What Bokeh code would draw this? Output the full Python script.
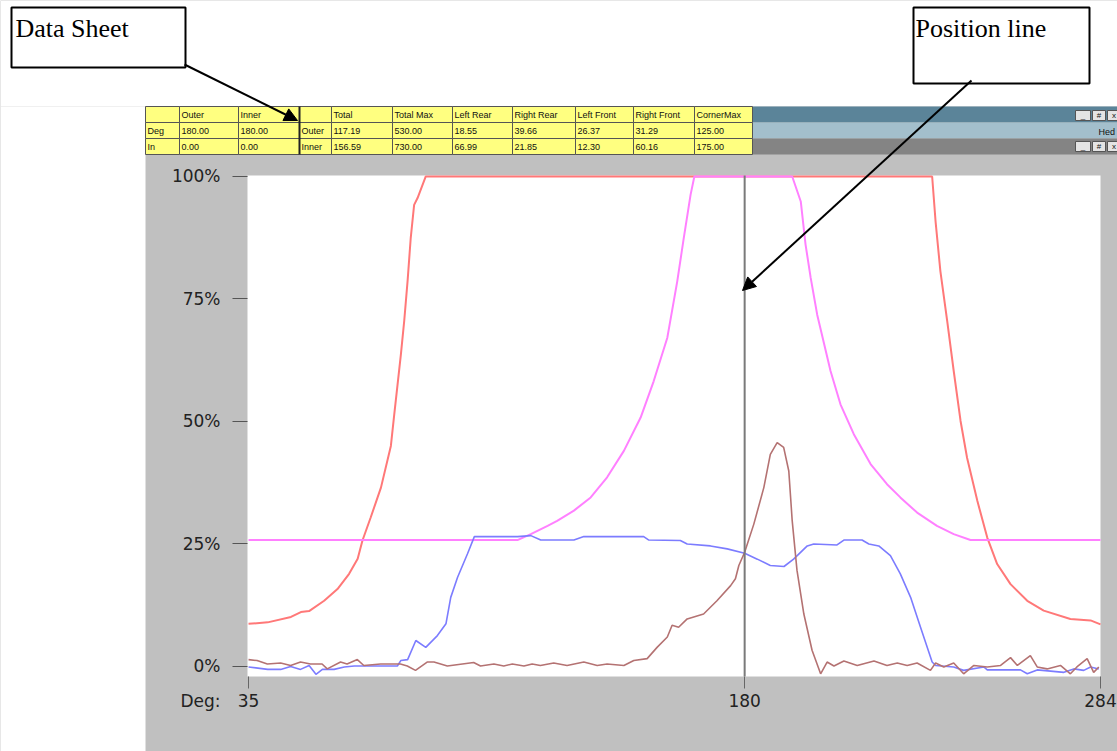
from bokeh.plotting import figure
from bokeh.models import (Range1d, FixedTicker, BoxAnnotation, Label, Arrow, NormalHead)
from bokeh.embed import file_html
from bokeh.resources import INLINE

# ---------------- data ----------------
red_x = [35, 40.6, 47.4, 50.3, 52.7, 57.1, 61.0, 64.4, 66.9, 68.3, 70.7, 73.7, 76.6, 77.6,
         79.5, 80.5, 81.5, 82.4, 83.4, 84.4, 86.8, 234.8, 235.8, 237.2, 239.2, 241.1, 243.1,
         245.0, 248.0, 250.9, 253.8, 257.7, 262.6, 267.4, 275.2, 281.1, 284]
red_y = [8.7, 9.0, 10.1, 11.1, 11.3, 13.4, 15.8, 18.9, 22.0, 25.7, 30.4, 36.5, 45.0, 51.5,
         63.5, 70.5, 78.8, 87.4, 94.2, 95.6, 100, 100, 90.8, 80.7, 70.5, 60.3, 50.1,
         42.6, 33.8, 26.3, 20.9, 16.8, 13.4, 11.4, 9.7, 9.4, 8.6]

mag_x = [35, 113.6, 117.5, 122.4, 125.2, 130.1, 135.0, 139.8, 144.7, 149.6, 153.4, 157.4,
         160.3, 162.2, 164.2, 165.3, 193.9, 196.4, 197.8, 199.3, 201.2, 205.1, 208.0, 211.9,
         216.8, 221.6, 225.5, 230.4, 236.2, 241.1, 246.0, 284]
mag_y = [25.8, 25.8, 27.0, 28.7, 29.7, 31.8, 34.5, 38.6, 44.0, 50.8, 58.2, 67.1,
         78.6, 87.4, 96.3, 100, 100, 94.9, 86.1, 79.3, 71.8, 60.3, 53.5, 47.4,
         41.3, 37.2, 34.5, 31.4, 28.7, 27.0, 25.8, 25.8]

blue_x = [35, 40.6, 44.4, 47.3, 50.2, 52.7, 54.7, 56.6, 60.0, 63.0, 65.9, 69.8, 78.5, 79.5,
          81.5, 83.9, 86.8, 90.2, 92.7, 94.1, 96.1, 99.0, 101.0, 113.6, 117.5, 120.4, 130.1,
          133.0, 150.5, 152.0, 161.2, 163.2, 170.0, 174.9, 180.0, 183.7, 187.5, 191.5, 194.3,
          198.3, 200.2, 207.0, 209.0, 214.3, 216.3, 219.2, 222.6, 225.5, 228.5, 231.4, 234.8,
          235.8, 241.1, 244.0, 249.9, 250.9, 260.6, 262.6, 265.5, 273.3, 276.2, 279.1, 281.1,
          283.5]
blue_y = [-0.1, -0.6, -0.6, 0.0, -0.6, 0.2, -1.6, -0.6, -0.6, -0.1, 0.1, 0.1, 0.1, 1.2,
          1.4, 5.3, 3.9, 6.3, 8.7, 14.1, 18.2, 23.0, 26.5, 26.5, 26.7, 25.8, 25.8,
          26.5, 26.5, 25.8, 25.7, 25.0, 24.6, 24.0, 23.1, 21.9, 20.6, 20.4, 21.9,
          24.6, 25.0, 24.8, 25.8, 25.8, 25.0, 24.6, 22.6, 18.9, 14.1, 8.0, 0.9,
          0.2, -0.1, -0.8, -0.1, -0.7, -0.7, -1.5, -0.7, -1.2, -0.5, -0.8, -0.1,
          -0.5]

brown_x = [35, 37.5, 40.5, 44.4, 47.3, 50.2, 53.1, 56.5, 58.0, 61.9, 63.8, 66.8, 68.7, 73.6,
           79.4, 81.4, 83.8, 87.2, 89.2, 93.1, 100.8, 102.8, 106.7, 109.6, 112.1, 115.5,
           117.9, 120.3, 124.2, 128.1, 133.0, 136.9, 139.8, 144.7, 147.6, 151.5, 154.4, 157.4,
           158.8, 160.7, 163.2, 168.0, 171.9, 175.9, 177.3, 178.3, 180.0, 182.7, 185.6, 187.5,
           189.5, 191.4, 192.9, 193.9, 195.3, 197.3, 199.7, 202.2, 204.1, 206.1, 209.0, 212.9,
           217.8, 221.6, 224.6, 227.5, 230.4, 234.3, 235.8, 238.2, 241.1, 244.0, 247.0, 250.9,
           254.8, 257.7, 259.7, 263.5, 265.5, 268.4, 272.3, 275.2, 277.1, 280.1, 282.0, 283.5]
brown_y = [1.4, 1.2, 0.5, 0.7, 0.2, 0.9, 0.5, 0.5, -0.5, 0.9, 0.5, 1.4, 0.2, 0.5,
           0.5, 0.1, -0.8, 0.9, 0.9, 0.1, 0.8, 0.1, 0.5, 0.1, 0.5, 0.1,
           0.5, 0.2, 0.7, 0.2, 0.9, 0.2, 0.5, 0.2, 1.2, 1.6, 3.9, 6.0,
           8.4, 8.0, 9.7, 10.7, 13.4, 16.5, 17.9, 20.6, 23.3, 29.1, 36.5, 43.3,
           45.7, 44.7, 39.9, 29.7, 19.6, 10.7, 3.3, -1.5, 0.9, 0.1, 1.1, 0.2,
           1.1, 0.2, 0.7, 0.2, 0.7, -0.8, 0.7, -0.1, 0.7, -1.5, 0.2, -0.1,
           0.2, 1.8, 0.2, 2.2, -0.1, -0.5, 0.2, -1.5, -0.1, 1.6, -1.2, -0.1]

position_deg = 180
x_ticks = [35, 180, 284]
y_ticks = [0, 25, 50, 75, 100]
y_tick_labels = ["0%", "25%", "50%", "75%", "100%"]

table_header = ["", "Outer", "Inner", "", "Total", "Total Max", "Left Rear", "Right Rear",
                "Left Front", "Right Front", "CornerMax"]
table_row1 = ["Deg", "180.00", "180.00", "Outer", "117.19", "530.00", "18.55", "39.66",
              "26.37", "31.29", "125.00"]
table_row2 = ["In", "0.00", "0.00", "Inner", "156.59", "730.00", "66.99", "21.85",
              "12.30", "60.16", "175.00"]

# ---------------- layout (page pixels) ----------------
W, H = 1117, 751
FL, FR, FT, FB = 247, 1100, 175, 676          # white plot area edges in page px
X0, X1 = 34.7, 284.0                           # data extent of the plot area
Y0, Y1 = -2.05, 100.2
SX = (FR - FL) / (X1 - X0)
SY = (FB - FT) / (Y1 - Y0)

def DX(px):   # page px -> data x
    return X0 + (px - FL) / SX

def DY(py):   # page px -> data y
    return Y1 - (py - FT) / SY

p = figure(width=W, height=H, output_backend="svg", toolbar_location=None,
           x_range=Range1d(DX(0), DX(W)), y_range=Range1d(DY(H), DY(0)),
           min_border=0, min_border_left=0, min_border_right=0,
           min_border_top=0, min_border_bottom=0)
p.border_fill_color = "#c0c0c0"
p.background_fill_color = "#c0c0c0"
p.outline_line_color = None
p.grid.visible = False

# axes drawn at the edges of the plot area
p.yaxis.fixed_location = X0
p.xaxis.fixed_location = Y0

p.yaxis.ticker = FixedTicker(ticks=y_ticks)
p.yaxis.major_label_overrides = {t: l for t, l in zip(y_ticks, y_tick_labels)}
p.yaxis.axis_line_color = None
p.yaxis.major_tick_out = 15
p.yaxis.major_tick_in = 0
p.yaxis.minor_tick_line_color = None
p.yaxis.major_tick_line_color = "#555555"
p.yaxis.major_label_standoff = 12
p.yaxis.major_label_text_font = "DejaVu Sans"
p.yaxis.major_label_text_font_size = "17px"
p.yaxis.major_label_text_color = "#222222"

p.xaxis.ticker = FixedTicker(ticks=x_ticks)
p.xaxis.axis_line_color = None
p.xaxis.major_tick_out = 12
p.xaxis.major_tick_in = 0
p.xaxis.minor_tick_line_color = None
p.xaxis.major_tick_line_color = "#666666"
p.xaxis.major_label_standoff = 5
p.xaxis.major_label_text_font = "DejaVu Sans"
p.xaxis.major_label_text_font_size = "17px"
p.xaxis.major_label_text_color = "#222222"

# white plot area
p.quad(left=[X0], right=[X1], bottom=[Y0], top=[Y1], fill_color="white", line_color=None)

# series
p.line(red_x, red_y, line_color="#ff7878", line_width=2)
p.line(mag_x, mag_y, line_color="#ff80ff", line_width=2)
p.line(blue_x, blue_y, line_color="#7c7cff", line_width=1.6)
p.line(brown_x, brown_y, line_color="#b47272", line_width=1.6)

# position line
p.segment(x0=[position_deg], y0=[Y0], x1=[position_deg], y1=[Y1],
          line_color="#7a7a7a", line_width=2)


def box(l, t, r, b, fill, line=None, lw=1):
    p.add_layout(BoxAnnotation(left=DX(l), right=DX(r), top=DY(t), bottom=DY(b),
                               fill_color=fill, fill_alpha=1.0,
                               line_color=line, line_width=lw, line_alpha=1.0))


def label(x, y, text, size, font="Liberation Sans", align="left", color="#111111"):
    p.add_layout(Label(x=DX(x), y=DY(y), text=text,
                       text_font=font, text_font_size=size, text_align=align,
                       text_baseline="middle", text_color=color))


# white page regions
box(0, 0, W, 106, "white")
box(0, 106, 145, H, "white")

# strips right of the table
box(752, 106, W, 122, "#5b8499")
box(752, 122, W, 138, "#a3bfcc")
box(752, 138, W, 154, "#848484")
for (bl, br, g) in [(1075, 1090, "_"), (1092, 1105, "#"), (1107, 1120, "x")]:
    box(bl, 110, br, 120, "#e4e4e4", "#555555")
    label((bl + br) / 2, 115, g, "8px", align="center")
    box(bl, 141, br, 151, "#e4e4e4", "#555555")
    label((bl + br) / 2, 146, g, "8px", align="center")
label(1098, 131, "Hed", "9px")

# data sheet table
col_edges = [145, 179, 238, 299, 331, 392, 452, 512, 575, 633, 694, 752]
row_edges = [106, 122, 138, 154]
rows = [table_header, table_row1, table_row2]
for r in range(3):
    for c in range(11):
        box(col_edges[c], row_edges[r], col_edges[c + 1], row_edges[r + 1], "#ffff80", "#555555")
for r in range(3):
    for c in range(11):
        if rows[r][c]:
            label(col_edges[c] + 2, (row_edges[r] + row_edges[r + 1]) / 2 + 0.5, rows[r][c], "9px")
box(298, 106, 300, 154, "#222222")

# annotation boxes
box(11, 7, 185, 67, "white", "black", 2)
label(15, 28, "Data Sheet", "26px", font="Liberation Serif", color="black")
box(913, 7, 1089, 83, "white", "black", 2)
label(915, 28, "Position line", "26px", font="Liberation Serif", color="black")

p.add_layout(Arrow(x_start=DX(184), y_start=DY(64), x_end=DX(297), y_end=DY(120),
                   line_width=2, line_color="black",
                   end=NormalHead(size=13, fill_color="black", line_color="black")))
p.add_layout(Arrow(x_start=DX(971), y_start=DY(80), x_end=DX(742), y_end=DY(290),
                   line_width=2, line_color="black",
                   end=NormalHead(size=13, fill_color="black", line_color="black")))

# axis caption
label(220, 700, "Deg:", "17px", font="DejaVu Sans", align="right", color="#222222")

open("out.html", "w").write(file_html(p, INLINE))
